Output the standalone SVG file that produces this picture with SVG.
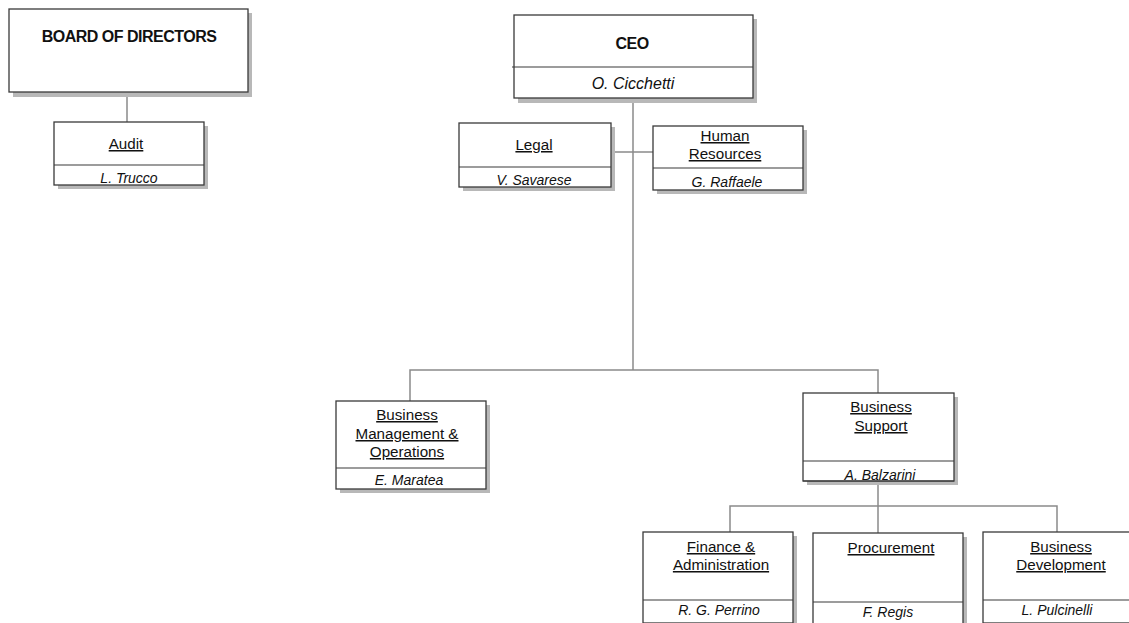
<svg xmlns="http://www.w3.org/2000/svg" width="1129" height="623" viewBox="0 0 1129 623">
<defs>
<style>
.sh{fill:#b8b8b8}
.bx{fill:#fff;stroke:#3a3a3a;stroke-width:1.3}
.dv{stroke:#3a3a3a;stroke-width:1.2}
.cn{stroke:#8a8a8a;stroke-width:1.5;fill:none}
text{font-family:"Liberation Sans",Arial,sans-serif;font-size:14px;fill:#111;text-anchor:middle}
.t{text-decoration:underline;font-size:15.2px}
.n{font-style:italic}
.b{font-weight:bold;font-size:16px;letter-spacing:-0.5px}
</style>
</defs>
<rect width="1129" height="623" fill="#fff"/>
<g id="connectors">
<path class="cn" d="M127 92V122"/>
<path class="cn" d="M633 98V370"/>
<path class="cn" d="M611 152H653"/>
<path class="cn" d="M410 401V370H878V393"/>
<path class="cn" d="M878 481V533"/>
<path class="cn" d="M730 532V506H1057V532"/>
</g>
<g id="board">
<rect class="sh" x="13" y="13" width="239" height="84"/>
<rect class="bx" x="9" y="9" width="239" height="83"/>
<text class="b" x="129" y="42">BOARD OF DIRECTORS</text>
</g>
<g id="audit">
<rect class="sh" x="58" y="126" width="150" height="63"/>
<rect class="bx" x="54" y="122" width="150" height="63"/>
<line class="dv" x1="54" y1="165" x2="204" y2="165"/>
<text class="t" x="126" y="149">Audit</text>
<text class="n" x="129" y="183">L. Trucco</text>
</g>
<g id="ceo">
<rect class="sh" x="518" y="19" width="239" height="84"/>
<rect class="bx" x="514" y="15" width="239" height="83"/>
<line class="dv" x1="512" y1="67" x2="753" y2="67"/>
<text class="b" x="632" y="49">CEO</text>
<text class="n" x="633" y="89" style="font-size:16px">O. Cicchetti</text>
</g>
<g id="legal">
<rect class="sh" x="463" y="127" width="152" height="64"/>
<rect class="bx" x="459" y="123" width="152" height="64"/>
<line class="dv" x1="459" y1="167" x2="611" y2="167"/>
<text class="t" x="534" y="150">Legal</text>
<text class="n" x="534" y="185">V. Savarese</text>
</g>
<g id="hr">
<rect class="sh" x="657" y="130" width="150" height="64"/>
<rect class="bx" x="653" y="126" width="150" height="64"/>
<line class="dv" x1="653" y1="168" x2="803" y2="168"/>
<text class="t" x="725" y="141">Human</text>
<text class="t" x="725" y="159">Resources</text>
<text class="n" x="727" y="187">G. Raffaele</text>
</g>
<g id="bmo">
<rect class="sh" x="340" y="405" width="150" height="88"/>
<rect class="bx" x="336" y="401" width="150" height="88"/>
<line class="dv" x1="336" y1="468" x2="486" y2="468"/>
<text class="t" x="407" y="420">Business</text>
<text class="t" x="407" y="439">Management &amp;</text>
<text class="t" x="407" y="457">Operations</text>
<text class="n" x="409" y="485">E. Maratea</text>
</g>
<g id="bsupport">
<rect class="sh" x="807" y="397" width="151" height="88"/>
<rect class="bx" x="803" y="393" width="151" height="88"/>
<line class="dv" x1="803" y1="461" x2="954" y2="461"/>
<text class="t" x="881" y="412">Business</text>
<text class="t" x="881" y="431">Support</text>
<text class="n" x="880" y="480">A. Balzarini</text>
<line class="dv" x1="803" y1="481" x2="954" y2="481"/>
</g>
<g id="finance">
<rect class="sh" x="647" y="536" width="150" height="90"/>
<rect class="bx" x="643" y="532" width="150" height="91"/>
<line class="dv" x1="643" y1="600" x2="793" y2="600"/>
<text class="t" x="721" y="552">Finance &amp;</text>
<text class="t" x="721" y="570">Administration</text>
<text class="n" x="719" y="615">R. G. Perrino</text>
</g>
<g id="procurement">
<rect class="sh" x="817" y="537" width="150" height="90"/>
<rect class="bx" x="813" y="533" width="150" height="91"/>
<line class="dv" x1="813" y1="602" x2="963" y2="602"/>
<text class="t" x="891" y="553">Procurement</text>
<text class="n" x="888" y="617">F. Regis</text>
</g>
<g id="bdev">
<rect class="sh" x="987" y="536" width="150" height="90"/>
<rect class="bx" x="983" y="532" width="150" height="91"/>
<line class="dv" x1="983" y1="600" x2="1129" y2="600"/>
<text class="t" x="1061" y="552">Business</text>
<text class="t" x="1061" y="570">Development</text>
<text class="n" x="1057" y="615">L. Pulcinelli</text>
</g>
</svg>
